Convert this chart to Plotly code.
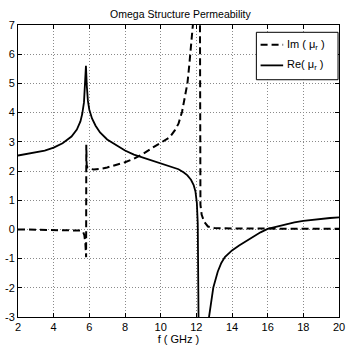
import plotly.graph_objects as go

# Re(mu_r)
f_re = [2.0, 2.5, 3.0, 3.5, 4.0, 4.5, 5.0, 5.3, 5.5, 5.6, 5.7, 5.76, 5.81, 5.86, 5.92, 6.0,
        6.15, 6.35, 6.6, 7.0, 7.5, 8.0, 8.5, 9.0, 9.5, 10.0, 10.5, 11.0, 11.3, 11.5, 11.7,
        11.85, 11.95, 12.03, 12.08, 12.13, None,
        12.64, 12.8, 12.95, 13.2, 13.4, 13.6, 14.0, 14.4, 14.8, 15.2, 15.6, 16.0, 16.5, 17.0,
        17.5, 18.0, 18.5, 19.0, 19.5, 20.0]
re_mu = [2.53, 2.58, 2.63, 2.7, 2.8, 2.95, 3.18, 3.42, 3.7, 3.95, 4.35, 4.9, 5.6, 4.9, 4.4, 4.1,
         3.8, 3.55, 3.32, 3.08, 2.88, 2.7, 2.56, 2.46, 2.36, 2.27, 2.17, 2.06, 1.95, 1.85, 1.7,
         1.52, 1.3, 0.9, 0.2, -3.5, None,
         -3.3, -2.6, -2.0, -1.45, -1.15, -0.95, -0.72, -0.55, -0.4, -0.25, -0.1, 0.02, 0.1, 0.18,
         0.24, 0.29, 0.33, 0.36, 0.39, 0.41]

# Im(mu_r)
f_im = [2.0, 3.0, 4.0, 5.0, 5.5, 5.65, 5.72, 5.78, 5.82, 5.83, 5.85, 5.9, 6.0, 6.25, 6.6,
        7.0, 7.5, 8.0, 8.5, 9.0, 9.5, 10.0, 10.5, 10.8, 11.0, 11.2, 11.4, 11.5, 11.6, 11.7,
        11.8, 11.9, 12.0, 12.1, 12.2, 12.23, 12.3, 12.45, 12.65, 13.0, 14.0, 16.0, 18.0, 20.0]
im_mu = [0.0, -0.01, -0.01, -0.02, -0.04, -0.08, -0.2, -0.5, -0.95, 2.9, 2.2, 2.12, 2.08, 2.05, 2.07,
         2.12, 2.2, 2.3, 2.42, 2.58, 2.78, 2.98, 3.15, 3.4, 3.62, 4.03, 4.6, 5.0, 5.6, 6.3,
         7.0, 7.9, 8.5, 9.0, 8.0, 0.85, 0.5, 0.25, 0.1, 0.05, 0.03, 0.02, 0.02, 0.02]

x_ticks = [2, 4, 6, 8, 10, 12, 14, 16, 18, 20]
y_ticks = [-3, -2, -1, 0, 1, 2, 3, 4, 5, 6, 7]
x_ticktext = [str(v) for v in x_ticks]
y_ticktext = [str(v) for v in y_ticks]  # ASCII hyphen minus, like the original

FONT = "Liberation Sans, Arial, sans-serif"
FS = 11

fig = go.Figure()
fig.add_trace(go.Scatter(x=f_im, y=im_mu, mode="lines", name="Im ( μ<sub>r</sub> )",
                         line=dict(color="black", width=2, dash="7px,4px"), showlegend=False))
fig.add_trace(go.Scatter(x=f_re, y=re_mu, mode="lines", name="Re( μ<sub>r</sub> )",
                         line=dict(color="black", width=1.8), showlegend=False))

axis_common = dict(
    showline=True, linecolor="black", linewidth=1, mirror="ticks",
    ticks="inside", ticklen=4, tickcolor="black",
    showgrid=True, gridcolor="#8a8a8a", griddash="1px,2px", gridwidth=1,
    zeroline=False, tickfont=dict(family=FONT, size=FS, color="black"),
    ticklabeloverflow="allow",
)

fig.update_xaxes(range=[2, 20], tickvals=x_ticks, ticktext=x_ticktext, **axis_common,
                 title=dict(text="f ( GHz )", font=dict(family=FONT, size=FS, color="black"), standoff=2))
fig.update_yaxes(range=[-3, 7], tickvals=y_ticks, ticktext=y_ticktext, **axis_common)

# legend box (custom, MATLAB style)
lx0, lx1, ly0, ly1 = 0.7426, 0.997, 0.8126, 0.975
fig.add_shape(type="rect", xref="paper", yref="paper", x0=lx0, x1=lx1, y0=ly0, y1=ly1,
              line=dict(color="black", width=1), fillcolor="white", layer="above")
fig.add_shape(type="line", xref="paper", yref="paper", x0=0.7557, x1=0.826, y0=0.9327, y1=0.9327,
              line=dict(color="black", width=2, dash="7px,4px"), layer="above")
fig.add_shape(type="line", xref="paper", yref="paper", x0=0.7557, x1=0.826, y0=0.8617, y1=0.8617,
              line=dict(color="black", width=1.8), layer="above")
fig.add_annotation(xref="paper", yref="paper", x=0.832, y=0.9327, xanchor="left", yanchor="middle",
                   text="Im ( μ<sub>r</sub> )", showarrow=False,
                   font=dict(family=FONT, size=FS, color="black"))
fig.add_annotation(xref="paper", yref="paper", x=0.832, y=0.8617, xanchor="left", yanchor="middle",
                   text="Re( μ<sub>r</sub> )", showarrow=False,
                   font=dict(family=FONT, size=FS, color="black"))

fig.update_layout(
    width=347, height=350,
    margin=dict(l=18, r=2, t=25, b=33),
    paper_bgcolor="white", plot_bgcolor="white",
    title=dict(text="Omega Structure Permeability", x=0.52, xanchor="center",
               y=1 - 14 / 350, yanchor="middle", yref="container",
               font=dict(family=FONT, size=10.5, color="black")),
    showlegend=False,
)

fig.write_html("out.html")
